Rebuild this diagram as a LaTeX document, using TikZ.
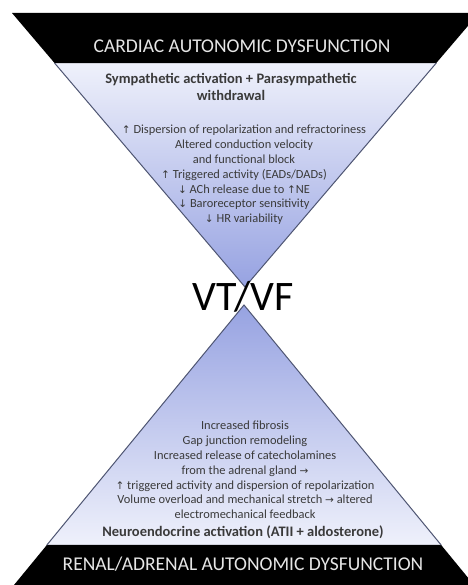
\documentclass[tikz,border=0pt]{standalone}
\usepackage{fontspec}
\setmainfont{Carlito}
\newfontfamily\symf{DejaVu Sans}
\usetikzlibrary{calc}
\definecolor{edgec}{HTML}{4E5572}
\definecolor{lightc}{HTML}{EFF1FB}
\definecolor{deepc}{HTML}{95A1E1}
\definecolor{txtc}{HTML}{3A3A3A}
\definecolor{bandtxt}{HTML}{E6E6E6}
\newcommand{\up}{{\symf\fontsize{10.5}{10}\selectfont ↑}}
\newcommand{\dn}{{\symf\fontsize{10.5}{10}\selectfont ↓}}
\newcommand{\ra}{{\symf\fontsize{10.5}{10}\selectfont →}}
\begin{document}
\begin{tikzpicture}[x=1pt,y=-1pt,
  bandtext/.style={text=bandtxt,font=\fontsize{19.5}{21}\selectfont,inner sep=0pt},
  headtext/.style={text=txtc,font=\bfseries\fontsize{14.5}{16.5}\selectfont,align=center,inner sep=0pt},
  listtext/.style={text=txtc,font=\fontsize{12.4}{14.8}\selectfont,align=center,inner sep=0pt},
  bigtext/.style={font=\fontsize{42}{46}\selectfont,inner sep=0pt},
  edge/.style={draw=edgec,line width=1pt,line join=miter}]
\useasboundingbox (0,0) rectangle (467,585);
\fill[white] (0,0) rectangle (467,585);
% top inverted triangle
\coordinate (A) at (12,13);
\coordinate (B) at (479,13);
\coordinate (T) at (245,287);
\coordinate (A1) at ($(A)!0.1825!(T)$);
\coordinate (B1) at ($(B)!0.1825!(T)$);
\begin{scope}
  \clip (A) -- (B) -- (T) -- cycle;
  \shade[top color=lightc,bottom color=deepc] (0,63) rectangle (480,290);
\end{scope}
\fill[black] (A) -- (B) -- (B1) -- (A1) -- cycle;
\draw[edge] (A1) -- (T) -- (B1);
% bottom triangle
\coordinate (U) at (244,305);
\coordinate (L) at (14,585);
\coordinate (R) at (474,585);
\coordinate (L1) at ($(L)!0.1429!(U)$);
\coordinate (R1) at ($(R)!0.1429!(U)$);
\begin{scope}
  \clip (L) -- (R) -- (U) -- cycle;
  \shade[top color=deepc,bottom color=lightc] (0,300) rectangle (480,546);
\end{scope}
\fill[black] (L) -- (R) -- (R1) -- (L1) -- cycle;
\draw[edge] (L1) -- (U) -- (R1);
% texts
\node[bandtext] (cardiac) at (242,46) {CARDIAC AUTONOMIC DYSFUNCTION};
\node[headtext] (symp) at (231,87) {Sympathetic activation + Parasympathetic\\withdrawal};
\node[listtext] (toplist) at (244,175) {\up{} Dispersion of repolarization and refractoriness\\
Altered conduction velocity\\
and functional block\\
\up{} Triggered activity (EADs/DADs)\\
\dn{} ACh release due to \up{}NE\\
\dn{} Baroreceptor sensitivity\\
\dn{} HR variability};
\node[bigtext,text=black] (vtvf) at (243,297) {VT/VF};
\node[listtext] (botlist) at (245,470) {Increased fibrosis\\
Gap junction remodeling\\
Increased release of catecholamines\\
from the adrenal gland \ra\\
\up{} triggered activity and dispersion of repolarization\\
Volume overload and mechanical stretch \ra{} altered\\
electromechanical feedback};
\node[headtext] (neuro) at (243,532) {Neuroendocrine activation (ATII + aldosterone)};
\node[bandtext] (renal) at (243,564) {RENAL/ADRENAL AUTONOMIC DYSFUNCTION};
\end{tikzpicture}
\end{document}
